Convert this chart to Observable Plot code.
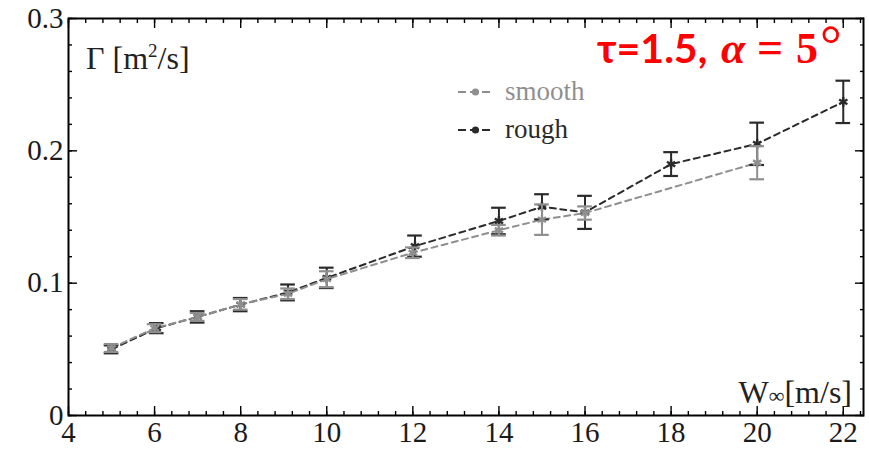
<!DOCTYPE html>
<html>
<head>
<meta charset="utf-8">
<script src="https://cdn.jsdelivr.net/npm/d3@7"></script>
<script src="https://cdn.jsdelivr.net/npm/@observablehq/plot@0.6"></script>
<style>
  body { margin: 0; background: #fff; }
  #chart { width: 869px; height: 450px; }
</style>
</head>
<body>
<div id="chart"></div>
<script>
// Circulation Γ versus free-stream speed W∞ for smooth and rough blades
const speedSmooth = [5, 6, 7, 8, 9.1, 10, 12, 14, 15, 16, 20];
const gammaSmooth = [0.051, 0.066, 0.0745, 0.084, 0.092, 0.103, 0.123, 0.140, 0.148, 0.153, 0.191];
const errSmooth   = [0.003, 0.003, 0.003, 0.004, 0.004, 0.006, 0.004, 0.004, 0.0115, 0.005, 0.0125];

const speedRough = [5, 6.05, 7, 8, 9.1, 10, 12.05, 14, 15, 16, 18, 20, 22];
const gammaRough = [0.050, 0.066, 0.0745, 0.0838, 0.093, 0.104, 0.128, 0.147, 0.1577, 0.1535, 0.190, 0.2053, 0.237];
const errRough   = [0.003, 0.0038, 0.0043, 0.005, 0.006, 0.0077, 0.008, 0.010, 0.0095, 0.0125, 0.009, 0.016, 0.016];

const seriesNames  = ["smooth", "rough"];
const seriesColors = ["#8f8f8f", "#2a2a2a"];

const xTickValues = [4, 6, 8, 10, 12, 14, 16, 18, 20, 22];
const yTickValues = [0, 0.1, 0.2, 0.3];
const xMinorTicks = d3.range(4, 22.41, 0.4);
const yMinorTicks = d3.range(0, 0.301, 0.02);

const rows = [
  ...speedRough.map((x, i) => ({series: "rough", x, y: gammaRough[i], err: errRough[i]})),
  ...speedSmooth.map((x, i) => ({series: "smooth", x, y: gammaSmooth[i], err: errSmooth[i]}))
];
const rough = rows.filter(d => d.series === "rough");
const smooth = rows.filter(d => d.series === "smooth");
const colorOf = s => seriesColors[seriesNames.indexOf(s)];

const serif = "'Liberation Serif', 'Times New Roman', serif";
const capHalf = 0.17;

function seriesMarks(data) {
  const c = colorOf(data[0].series);
  return [
    Plot.ruleX(data, {x: "x", y1: d => d.y - d.err, y2: d => d.y + d.err, stroke: c, strokeWidth: 2}),
    Plot.ruleY(data, {y: d => d.y - d.err, x1: d => d.x - capHalf, x2: d => d.x + capHalf, stroke: c, strokeWidth: 2.2}),
    Plot.ruleY(data, {y: d => d.y + d.err, x1: d => d.x - capHalf, x2: d => d.x + capHalf, stroke: c, strokeWidth: 2.2}),
    Plot.dot(data, {x: "x", y: "y", symbol: "asterisk", r: 4.5, stroke: c, strokeWidth: 2.4})
  ];
}

// inward-pointing ticks on all four sides of the frame
function inwardTicks(k, ticks, size) {
  const common = {ticks, tickSize: size, fill: "none", stroke: "#000", strokeWidth: 1.4, label: null};
  if (k === "x") return [
    Plot.axisX({...common, anchor: "bottom", dy: -size}),
    Plot.axisX({...common, anchor: "top", dy: size})
  ];
  return [
    Plot.axisY({...common, anchor: "left", dx: size}),
    Plot.axisY({...common, anchor: "right", dx: -size})
  ];
}

const plot = Plot.plot({
  width: 869,
  height: 450,
  marginLeft: 68,
  marginRight: 6,
  marginTop: 18,
  marginBottom: 35,
  style: {fontFamily: serif, fontSize: "29px", color: "#111", background: "#fff"},
  x: {domain: [4, 22.47]},
  y: {domain: [0, 0.3]},
  marks: [
    ...inwardTicks("x", xMinorTicks, 4),
    ...inwardTicks("x", xTickValues, 9),
    ...inwardTicks("y", yMinorTicks, 4),
    ...inwardTicks("y", yTickValues, 9),
    Plot.axisX({anchor: "bottom", ticks: xTickValues, tickSize: 0, tickPadding: 6, label: null,
      fontFamily: serif, fontSize: 29, fill: "#1a1a1a", tickFormat: d => String(d)}),
    Plot.axisY({anchor: "left", ticks: yTickValues, tickSize: 0, tickPadding: 5, label: null,
      fontFamily: serif, fontSize: 29, fill: "#1a1a1a", tickFormat: d => d === 0 ? "0" : d.toFixed(1)}),
    Plot.line(rows, {x: "x", y: "y", z: "series", stroke: d => colorOf(d.series), strokeWidth: 2, strokeDasharray: "6,4.5"}),
    ...seriesMarks(rough),
    ...seriesMarks(smooth),
    Plot.frame({stroke: "#000", strokeWidth: 2})
  ]
});

document.getElementById("chart").appendChild(plot);

// annotations: axis names, legend and case label
const svg = d3.select(plot);

const yName = svg.append("text")
  .attr("x", 86).attr("y", 69).attr("text-anchor", "start")
  .attr("font-family", serif)
  .attr("font-size", 32).attr("fill", "#222");
yName.append("tspan").text("Γ [m");
yName.append("tspan").text("2").attr("font-size", 19).attr("dy", -12);
yName.append("tspan").text("/s]").attr("dy", 12);

const xName = svg.append("text")
  .attr("x", 852).attr("y", 403).attr("text-anchor", "end")
  .attr("font-family", serif)
  .attr("font-size", 32).attr("fill", "#222");
xName.append("tspan").text("W");
xName.append("tspan").text("∞").attr("font-size", 22);
xName.append("tspan").text("[m/s]");

const legendRows = [{name: "smooth", y: 92}, {name: "rough", y: 130}];
legendRows.forEach(r => {
  const c = colorOf(r.name);
  const g = svg.append("g");
  g.append("line").attr("x1", 458).attr("x2", 493).attr("y1", r.y).attr("y2", r.y)
    .attr("stroke", c).attr("stroke-width", 2).attr("stroke-dasharray", "8,4");
  g.append("circle").attr("cx", 475.5).attr("cy", r.y).attr("r", 3.6).attr("fill", c);
  g.append("text").attr("x", 505).attr("y", r.y + 8).attr("text-anchor", "start")
    .attr("font-family", serif).attr("font-size", 27)
    .attr("fill", c).text(r.name);
});

const caseLabel = svg.append("text")
  .attr("y", 63).attr("fill", "#ff0000").attr("font-weight", "bold").attr("text-anchor", "start");
caseLabel.append("tspan").attr("x", 597).attr("font-family", "Lato, sans-serif").attr("font-size", 41).text("τ=1.5,");
caseLabel.append("tspan").attr("x", 721).attr("font-family", serif).attr("font-style", "italic").attr("font-size", 44).text("α");
caseLabel.append("tspan").attr("x", 757).attr("font-family", serif).attr("font-size", 46).text("=");
caseLabel.append("tspan").attr("x", 796).attr("font-family", serif).attr("font-size", 44).text("5");
caseLabel.append("tspan").attr("x", 820).attr("font-family", serif).attr("font-weight", "normal").attr("font-size", 54).text("°");
</script>
</body>
</html>
